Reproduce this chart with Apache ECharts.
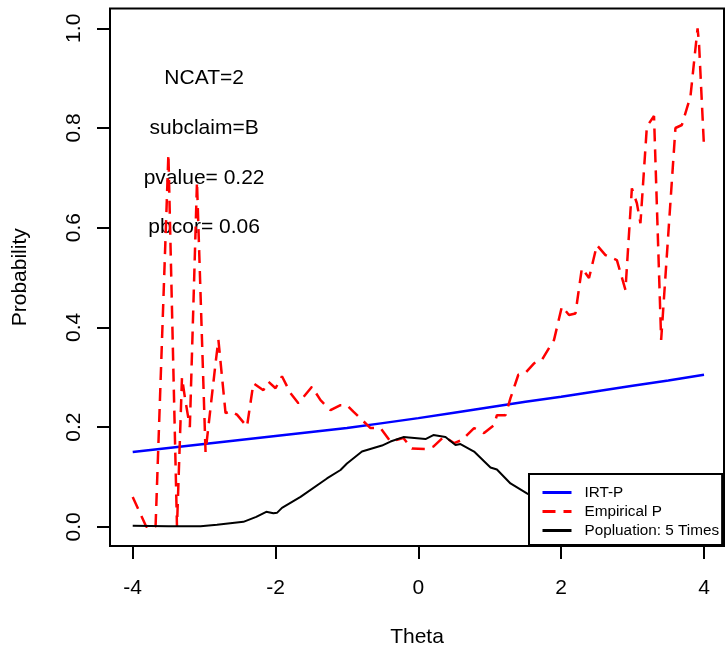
<!DOCTYPE html>
<html>
<head>
<meta charset="utf-8">
<script src="https://cdn.jsdelivr.net/npm/echarts@6/dist/echarts.min.js"></script>
<style>html,body{margin:0;padding:0;background:#fff;}#c{width:726px;height:654px;}</style>
</head>
<body>
<div id="c"></div>
<script>
// ---- data ----
var irtTheta = [-4, -3.5, -3, -2.5, -2, -1.5, -1, -0.5, 0, 0.5, 1, 1.5, 2, 2.5, 3, 3.5, 4];
var irtP     = [0.150, 0.158, 0.166, 0.174, 0.182, 0.190, 0.198, 0.208, 0.218, 0.229, 0.240, 0.251, 0.261, 0.272, 0.283, 0.2935, 0.305];

var empTheta = [-4.00, -3.81, -3.68, -3.50, -3.38, -3.31, -3.27, -3.20, -3.10, -2.98, -2.84, -2.80, -2.70, -2.63, -2.54, -2.40, -2.31, -2.17, -2.10, -2.00, -1.91, -1.79, -1.68, -1.49, -1.37, -1.23, -1.09, -1.00, -0.91, -0.67, -0.53, -0.39, -0.21, -0.09, 0.12, 0.21, 0.36, 0.50, 0.61, 0.78, 0.92, 1.06, 1.10, 1.22, 1.29, 1.36, 1.40, 1.50, 1.62, 1.73, 1.90, 2.01, 2.11, 2.20, 2.29, 2.39, 2.50, 2.62, 2.78, 2.90, 2.99, 3.06, 3.11, 3.20, 3.30, 3.40, 3.60, 3.69, 3.81, 3.91, 3.93, 4.00];
var empP     = [0.060, 0.000, 0.000, 0.748, 0.000, 0.300, 0.260, 0.200, 0.692, 0.150, 0.328, 0.375, 0.228, 0.232, 0.225, 0.201, 0.288, 0.274, 0.291, 0.278, 0.302, 0.268, 0.248, 0.281, 0.254, 0.234, 0.244, 0.244, 0.231, 0.198, 0.198, 0.171, 0.178, 0.157, 0.156, 0.161, 0.181, 0.168, 0.174, 0.198, 0.188, 0.204, 0.224, 0.224, 0.258, 0.288, 0.305, 0.309, 0.328, 0.335, 0.375, 0.442, 0.425, 0.428, 0.519, 0.499, 0.565, 0.545, 0.535, 0.475, 0.679, 0.649, 0.609, 0.803, 0.824, 0.375, 0.800, 0.806, 0.863, 1.000, 0.970, 0.762];

var popTheta = [-4.00, -3.50, -3.05, -2.82, -2.45, -2.27, -2.13, -2.03, -1.98, -1.91, -1.65, -1.28, -1.09, -1.00, -0.79, -0.51, -0.39, -0.21, 0.10, 0.21, 0.38, 0.52, 0.59, 0.78, 1.01, 1.10, 1.29, 1.52, 1.80, 2.20, 2.70, 3.20, 4.00];
var popP     = [0.002, 0.001, 0.001, 0.004, 0.010, 0.020, 0.030, 0.027, 0.028, 0.038, 0.060, 0.097, 0.114, 0.127, 0.151, 0.163, 0.171, 0.180, 0.176, 0.184, 0.180, 0.164, 0.166, 0.151, 0.119, 0.115, 0.087, 0.067, 0.045, 0.025, 0.010, 0.004, 0.001];

var xTicks = [-4, -2, 0, 2, 4];
var yTicks = [0, 0.2, 0.4, 0.6, 0.8, 1.0];

var noteText = ['NCAT=2', 'subclaim=B', 'pvalue= 0.22', 'pbcor= 0.06'];
var noteX = [-3, -3, -3, -3];
var noteY = [0.9, 0.8, 0.7, 0.6];

var seriesNames = ['IRT-P', 'Empirical P', 'Popluation: 5 Times'];

function pairs(xs, ys) { return xs.map(function (x, i) { return [x, ys[i]]; }); }

var FONT = 'Liberation Sans, Arial, sans-serif';
var chart = echarts.init(document.getElementById('c'), null, { renderer: 'canvas' });
chart.setOption({
  animation: false,
  backgroundColor: '#fff',
  grid: { left: 110, right: 2, top: 8.5, bottom: 108, show: true, borderColor: '#000', borderWidth: 2, backgroundColor: 'transparent' },
  xAxis: {
    type: 'value', min: -4.318, max: 4.28,
    name: 'Theta', nameLocation: 'middle', nameGap: 81,
    nameTextStyle: { fontFamily: FONT, fontSize: 21, color: '#000' },
    axisLine: { show: false, onZero: false },
    splitLine: { show: false },
    axisTick: { show: true, length: 13, lineStyle: { color: '#000', width: 2 }, customValues: xTicks },
    axisLabel: { show: true, margin: 32, fontFamily: FONT, fontSize: 21, color: '#000', customValues: xTicks,
      formatter: function (v) { return String(v); } }
  },
  yAxis: {
    type: 'value', min: -0.0385, max: 1.0397,
    name: 'Probability', nameLocation: 'middle', nameGap: 79, nameRotate: 90,
    nameTextStyle: { fontFamily: FONT, fontSize: 21, color: '#000' },
    axisLine: { show: false, onZero: false },
    splitLine: { show: false },
    axisTick: { show: true, length: 13, lineStyle: { color: '#000', width: 2 }, customValues: yTicks },
    axisLabel: { show: true, margin: 25, rotate: 90, fontFamily: FONT, fontSize: 21, color: '#000', customValues: yTicks,
      formatter: function (v) { return v.toFixed(1); } }
  },
  legend: {
    orient: 'vertical', left: 529, top: 474,
    data: seriesNames,
    itemWidth: 29, itemHeight: 14, itemGap: 4,
    padding: [11, 3, 7, 12],
    borderColor: '#000', borderWidth: 2, backgroundColor: '#fff',
    itemStyle: { opacity: 0 },
    lineStyle: { width: 3 },
    textStyle: { fontFamily: FONT, fontSize: 15.3, color: '#000', padding: [0, 0, 0, 8] },
    selectedMode: false
  },
  series: [
    { name: seriesNames[0], type: 'line', data: pairs(irtTheta, irtP), symbol: 'none', showSymbol: false,
      lineStyle: { color: '#0000FF', width: 2.5 }, itemStyle: { color: '#0000FF' } },
    { name: seriesNames[1], type: 'line', data: pairs(empTheta, empP), symbol: 'none', showSymbol: false,
      lineStyle: { color: '#FF0000', width: 2.5, type: [13, 8] }, itemStyle: { color: '#FF0000' } },
    { name: seriesNames[2], type: 'line', data: pairs(popTheta, popP), symbol: 'none', showSymbol: false,
      lineStyle: { color: '#000000', width: 2 }, itemStyle: { color: '#000000' } },
    { name: 'notes', type: 'scatter', symbolSize: 2, itemStyle: { color: 'rgba(255,255,255,0)' }, silent: true,
      data: noteText.map(function (t, i) { return { name: t, value: [noteX[i], noteY[i]] }; }),
      label: { show: true, position: [1, 1], align: 'center', verticalAlign: 'middle',
        formatter: function (p) { return p.name; },
        fontFamily: FONT, fontSize: 21, color: '#000000', opacity: 1 } }
  ]
});
</script>
</body>
</html>
